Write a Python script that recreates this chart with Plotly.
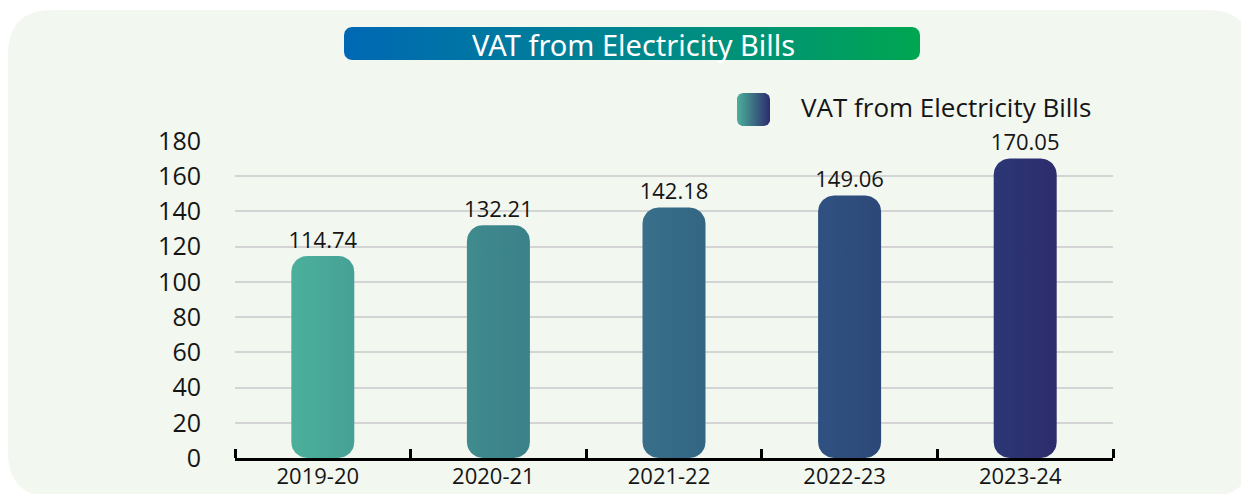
import numpy as np
import plotly.graph_objects as go

# ---- data ----
categories = ["2019-20", "2020-21", "2021-22", "2022-23", "2023-24"]
values = [114.74, 132.21, 142.18, 149.06, 170.05]
value_labels = ["114.74", "132.21", "142.18", "149.06", "170.05"]
series_name = "VAT from Electricity Bills"
chart_title = "VAT from Electricity Bills"
y_ticks = [0, 20, 40, 60, 80, 100, 120, 140, 160, 180]
bar_left_colors = ["#4bb09b", "#3f8b8d", "#386f8a", "#2f5181", "#2c3775"]
bar_right_colors = ["#46a196", "#3b808a", "#336683", "#2d4878", "#2d2c6c"]

# ---- geometry (screen pixels; page body adds an 8px offset) ----
W, H = 1249, 494
OFF = 8
PX0, PX1 = 235, 1113      # plot area x
PY0, PY1 = 141, 458       # plot area y (top, bottom)
YMAX = 180
BAR_W_PX = 63
R_PX = 16


def px_x(p):
    return (p - OFF) / W


def px_y(p):
    return 1 - (p - OFF) / H


FONT = "Open Sans"
TXT = "#151515"

x_per_px = 5.0 / (PX1 - PX0)
y_per_px = YMAX / (PY1 - PY0)


def rounded_rect(x0, x1, y0, y1, rx, ry, n=12):
    xs, ys = [], []
    corners = [
        (x1 - rx, y1 - ry, 0, 90),
        (x0 + rx, y1 - ry, 90, 180),
        (x0 + rx, y0 + ry, 180, 270),
        (x1 - rx, y0 + ry, 270, 360),
    ]
    for cx, cy, a0, a1 in corners:
        t = np.radians(np.linspace(a0, a1, n))
        xs.extend(cx + rx * np.cos(t))
        ys.extend(cy + ry * np.sin(t))
    xs.append(xs[0])
    ys.append(ys[0])
    return xs, ys


fig = go.Figure()

# bars as gradient-filled rounded polygons
hw = BAR_W_PX * x_per_px / 2
rx = R_PX * x_per_px
ry = R_PX * y_per_px
for i, v in enumerate(values):
    xs, ys = rounded_rect(i - hw, i + hw, 0, v, rx, ry)
    fig.add_trace(go.Scatter(
        x=xs, y=ys, mode="lines", fill="toself", line=dict(width=0),
        fillgradient=dict(type="horizontal",
                          colorscale=[[0, bar_left_colors[i]], [1, bar_right_colors[i]]]),
        hoverinfo="skip", showlegend=False, xaxis="x", yaxis="y"))

# value labels
fig.add_trace(go.Scatter(
    x=list(range(len(values))), y=values, mode="text+markers", text=value_labels,
    marker=dict(size=3, opacity=0),
    textposition="top center", textfont=dict(family=FONT, size=22, color=TXT),
    cliponaxis=False, showlegend=False, hoverinfo="skip", xaxis="x", yaxis="y"))

# legend swatch (own axes)
lx, ly = rounded_rect(0, 1, 0, 1, 6 / 33, 6 / 33)
fig.add_trace(go.Scatter(
    x=lx, y=ly, mode="lines", fill="toself", line=dict(width=0),
    fillgradient=dict(type="horizontal",
                      colorscale=[[0, bar_left_colors[0]], [1, bar_right_colors[-1]]]),
    hoverinfo="skip", showlegend=False, xaxis="x2", yaxis="y2"))

# title banner (own axes)
tw, th = 920 - 344, 60 - 27
tx, ty = rounded_rect(0, 1, 0, 1, 8 / tw, 8 / th)
fig.add_trace(go.Scatter(
    x=tx, y=ty, mode="lines", fill="toself", line=dict(width=0),
    fillgradient=dict(type="horizontal",
                      colorscale=[[0, "#0068b4"], [0.5, "#00868f"], [1, "#00a651"]]),
    hoverinfo="skip", showlegend=False, xaxis="x3", yaxis="y3"))

# background panel
L, T, Rr, B, rad = 8, 10, 1252, 497, 45
pl, pr = px_x(L), px_x(Rr)
pt, pb = px_y(T), px_y(B)
rxp, ryp = rad / W, rad / H
path = (f"M{pl+rxp},{pt} L{pr-rxp},{pt} Q{pr},{pt} {pr},{pt-ryp} "
        f"L{pr},{pb+ryp} Q{pr},{pb} {pr-rxp},{pb} L{pl+rxp},{pb} Q{pl},{pb} {pl},{pb+ryp} "
        f"L{pl},{pt-ryp} Q{pl},{pt} {pl+rxp},{pt} Z")
fig.add_shape(type="path", path=path, xref="paper", yref="paper",
              fillcolor="#f2f7f0", line=dict(width=0), layer="below")

fig.update_layout(
    width=W, height=H,
    margin=dict(l=0, r=0, t=0, b=0),
    paper_bgcolor="white",
    plot_bgcolor="rgba(0,0,0,0)",
    showlegend=False,
    xaxis=dict(
        domain=[px_x(PX0), px_x(PX1)], range=[-0.5, 4.5],
        tickvals=list(range(len(categories))), ticktext=categories,
        ticks="", showgrid=False, zeroline=False,
        showline=True, linecolor="#000000", linewidth=2.5,
        tickfont=dict(family=FONT, size=22, color=TXT),
        ticklabelshift=-5, ticklabelstandoff=-3,
        minor=dict(tickvals=[i - 0.5 for i in range(len(categories) + 1)],
                   ticks="inside", ticklen=9, tickwidth=2.5, tickcolor="#000000",
                   showgrid=False),
        automargin=False, fixedrange=True,
    ),
    yaxis=dict(
        domain=[px_y(PY1), px_y(PY0)], range=[0, YMAX],
        tickvals=y_ticks, ticks="", showgrid=True, gridcolor="#d4d4d4", gridwidth=2,
        zeroline=False, showline=False,
        tickfont=dict(family=FONT, size=25, color=TXT),
        ticklabelstandoff=33,
        automargin=False, fixedrange=True,
    ),
    xaxis2=dict(domain=[px_x(737), px_x(770)], range=[0, 1], visible=False, fixedrange=True),
    yaxis2=dict(domain=[px_y(126), px_y(93)], range=[0, 1], visible=False, fixedrange=True),
    xaxis3=dict(domain=[px_x(344), px_x(920)], range=[0, 1], visible=False, fixedrange=True),
    yaxis3=dict(domain=[px_y(60), px_y(27)], range=[0, 1], visible=False, fixedrange=True),
    annotations=[
        dict(text=chart_title, x=px_x(633), y=px_y(44), xref="paper", yref="paper",
             xanchor="center", yanchor="middle", showarrow=False,
             font=dict(family="Noto Sans", size=29, color="white")),
        dict(text=series_name, x=px_x(799), y=px_y(107), xref="paper", yref="paper",
             xanchor="left", yanchor="middle", showarrow=False,
             font=dict(family=FONT, size=26, color=TXT)),
    ],
)

fig.write_html("out.html")
